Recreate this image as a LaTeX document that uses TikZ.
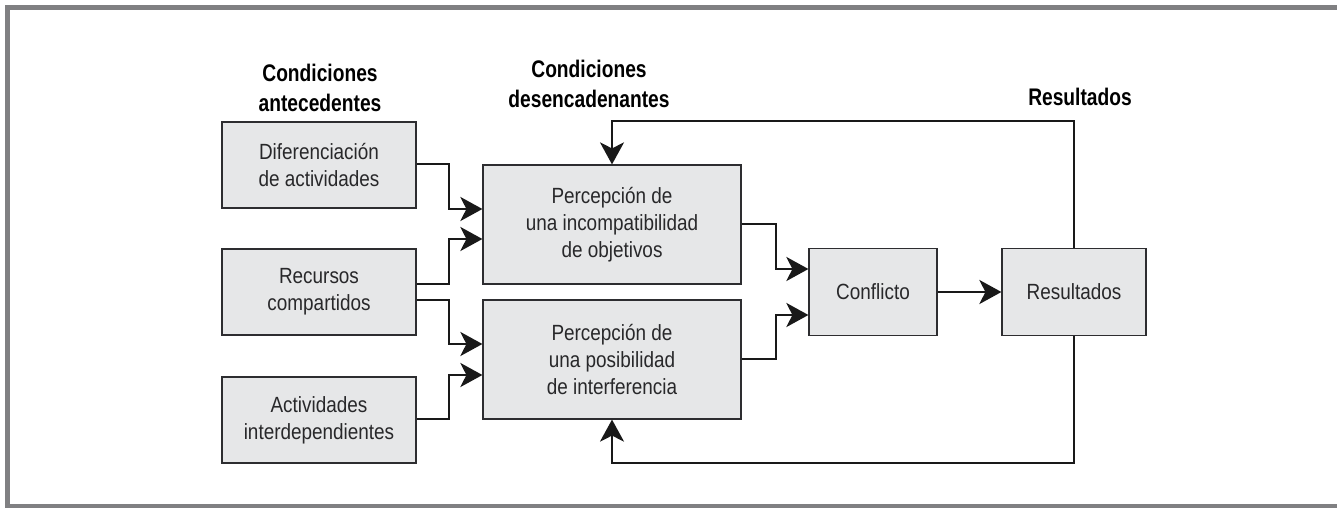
\documentclass[tikz,border=0pt]{standalone}
\usepackage{fontspec}
\setmainfont[FakeStretch=0.86, BoldFeatures={FakeStretch=0.80}]{Liberation Sans}
\usepackage{xcolor}
\usetikzlibrary{arrows.meta, positioning}
\definecolor{frgray}{RGB}{128, 128, 130}
\definecolor{bxfill}{RGB}{230, 231, 232}
\definecolor{bxline}{RGB}{45, 45, 48}
\definecolor{txtgray}{RGB}{40, 40, 42}

\begin{document}
\begin{tikzpicture}[
    x=0.5pt, y=-0.5pt,
    smallbox/.style={draw=bxline, line width=0.6pt, fill=bxfill,
                     minimum width=97pt, minimum height=43pt,
                     align=center, inner sep=0pt, text=txtgray,
                     font=\fontsize{11}{13.5}\selectfont},
    bigbox/.style={smallbox, minimum width=129pt, minimum height=59.5pt},
    head/.style={align=center, text=black,
                 font=\fontsize{12}{15}\selectfont\bfseries},
    arr/.style={-{Stealth[length=11pt, width=12pt, inset=3pt]},
                line width=1.3pt, draw=black!90},
    back/.style={arr, line width=1pt},
  ]
    \useasboundingbox (0,0) rectangle (1337,508);
    % frame
    \draw[frgray, line width=2.5pt] (7.5,7.5) rectangle (1339,506);
    % headings
    \node[head] (hant) at (320,88) {Condiciones\\antecedentes};
    \node[head] (hdes) at (589,84) {Condiciones\\desencadenantes};
    \node[head] (hres) at (1080,97) {Resultados};
    % antecedent conditions
    \node[smallbox] (dif) at (319,165) {Diferenciación\\de actividades};
    \node[smallbox] (rec) at (319,292) {Recursos\\compartidos};
    \node[smallbox] (act) at (319,420) {Actividades\\interdependientes};
    % triggering conditions
    \node[bigbox] (inc) at (612,224.5) {Percepción de\\una incompatibilidad\\de objetivos};
    \node[bigbox] (itf) at (612,359.5) {Percepción de\\una posibilidad\\de interferencia};
    % conflict and results
    \node[smallbox, minimum width=64pt, minimum height=43.5pt] (con) at (873,292) {Conflicto};
    \node[smallbox, minimum width=72pt, minimum height=43.5pt] (res) at (1074,292) {Resultados};

    \draw[arr] (dif.east |- 0,164) -| (449,209) -- (inc.west |- 0,209);
    \draw[arr] (rec.east |- 0,284) -| (449,239) -- (inc.west |- 0,239);
    \draw[arr] (rec.east |- 0,300) -| (449,344) -- (itf.west |- 0,344);
    \draw[arr] (act.east |- 0,419) -| (449,375) -- (itf.west |- 0,375);
    \draw[arr] (inc.east |- 0,224) -| (776,269) -- (con.west |- 0,269);
    \draw[arr] (itf.east |- 0,359) -| (776,315) -- (con.west |- 0,315);
    \draw[arr] (con) -- (res);
    % feedback loops
    \draw[back] (res.north) |- (612,121) -- (inc.north);
    \draw[back] (res.south) |- (612,463) -- (itf.south);
  \end{tikzpicture}
\end{document}
